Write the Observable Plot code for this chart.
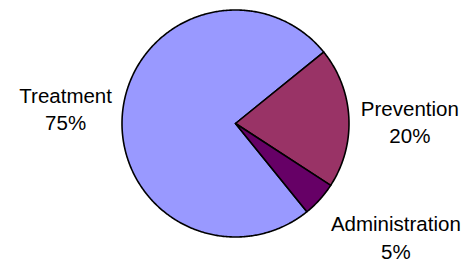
<!DOCTYPE html>
<html>
<head>
<meta charset="utf-8">
<script src="https://cdn.jsdelivr.net/npm/d3@7"></script>
<script src="https://cdn.jsdelivr.net/npm/@observablehq/plot@0.6"></script>
<style>
  html, body { margin: 0; padding: 0; background: #fff; }
</style>
</head>
<body>
<div id="chart"></div>
<script>
// ---- data ----
const categories = ["Treatment", "Prevention", "Administration"];
const shares = [75, 20, 5];
const percentLabels = ["75%", "20%", "5%"];
const colors = ["#9999FF", "#993366", "#660066"];

// ---- layout (not data) ----
const W = 475, H = 262;
const cx = 235, cy = 123, R = 113.5;          // pixel centre and radius
const startDeg = 141;                          // first slice starts here (clockwise from 12 o'clock)
const labelOffset = {                          // pixel offsets from the arc edge at the mid angle
  "Treatment": [-57, -4],
  "Prevention": [61, 3],
  "Administration": [76, 37]
};

const rows = categories.map((c, i) => ({name: c, value: shares[i], pct: percentLabels[i]}));
const pie = d3.pie().sort(null).value(d => d.value)
  .startAngle(startDeg * Math.PI / 180)
  .endAngle(startDeg * Math.PI / 180 + 2 * Math.PI);
const arcs = pie(rows);

// polygon outlines for each slice, in units of the radius (y up)
const outline = [];
for (const a of arcs) {
  outline.push({name: a.data.name, x: 0, y: 0});
  const n = Math.max(2, Math.ceil((a.endAngle - a.startAngle) / 0.01));
  for (let k = 0; k <= n; k++) {
    const t = a.startAngle + (a.endAngle - a.startAngle) * k / n;
    outline.push({name: a.data.name, x: Math.sin(t), y: Math.cos(t)});
  }
  outline.push({name: a.data.name, x: 0, y: 0});
}

// label anchors
const labels = arcs.map(a => {
  const m = (a.startAngle + a.endAngle) / 2;
  const [dx, dy] = labelOffset[a.data.name];
  return {
    name: a.data.name,
    text: a.data.name + "\n" + a.data.pct,
    x: Math.sin(m) + dx / R,
    y: Math.cos(m) - dy / R
  };
});

const chart = Plot.plot({
  width: W,
  height: H,
  margin: 0,
  x: {domain: [-cx / R, (W - cx) / R], range: [0, W], axis: null},
  y: {domain: [-(H - cy) / R, cy / R], range: [H, 0], axis: null},
  color: {domain: categories, range: colors},
  style: {background: "#fff", fontFamily: "Liberation Sans, Arial, sans-serif"},
  marks: [
    Plot.line(outline, {
      x: "x", y: "y", z: "name", fill: "name",
      stroke: "#000", strokeWidth: 1.6, strokeLinejoin: "round"
    }),
    Plot.text(labels, {
      x: "x", y: "y", text: "text",
      textAnchor: "middle", lineAnchor: "middle", lineHeight: 1.36,
      fontSize: 20.5, fill: "#000"
    })
  ]
});
document.getElementById("chart").appendChild(chart);
</script>
</body>
</html>
